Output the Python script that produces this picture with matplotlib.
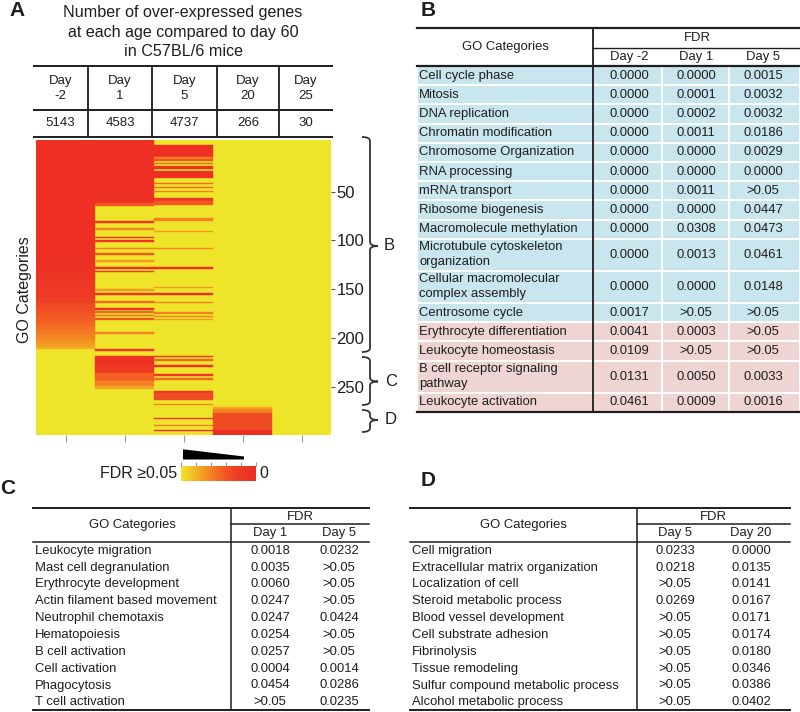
import matplotlib
matplotlib.use("Agg")
import matplotlib.pyplot as plt
import numpy as np
from matplotlib.cm import ScalarMappable
from matplotlib.colors import LinearSegmentedColormap, Normalize
from matplotlib.path import Path
from matplotlib.patches import PathPatch, Polygon, Rectangle

plt.rcParams['font.family'] = ['Liberation Sans', 'DejaVu Sans']

# ---------------- data ----------------
# panel A header table
ages = ['-2', '1', '5', '20', '25']
gene_counts = [5143, 4583, 4737, 266, 30]

# heatmap bands per age column: (first GO row, last GO row, FDR); rest is >=0.05
day_m2_bands = [(-3.5, 118, 0.0), (118, 124, 0.0015), (124, 130, 0.003), (130, 136, 0.0045),
                (136, 142, 0.006), (142, 148, 0.008), (148, 154, 0.010), (154, 159, 0.012),
                (159, 164, 0.014), (164, 169, 0.016), (169, 174, 0.018), (174, 179, 0.020),
                (179, 184, 0.022), (184, 188, 0.024), (188, 192, 0.026), (192, 196, 0.028),
                (196, 200, 0.030), (200, 203, 0.032), (203, 206, 0.034), (206, 209, 0.036),
                (209, 211, 0.039)]
day1_bands = [(-3.5, 62, 0.0), (62, 65, 0.02), (80.5, 81.5, 0.008), (88, 89, 0.03),
              (96.5, 97.5, 0.004), (100, 101, 0.004), (107.5, 108.5, 0.03), (113.5, 114.5, 0.02),
              (120.5, 121.5, 0.035), (127, 129, 0.0), (131.5, 132.5, 0.01), (150.5, 151.5, 0.035),
              (154.5, 155.5, 0.004), (162.5, 163.5, 0.025), (170, 171, 0.004), (173, 174, 0.025),
              (176.5, 177.5, 0.025), (180, 181, 0.02), (194.5, 195.5, 0.03), (212, 213, 0.01),
              (219, 228, 0.002), (228, 236, 0.012), (236, 244, 0.022), (244, 249, 0.03),
              (249, 252, 0.037)]
day5_bands = [(2, 14, 0.0), (14.5, 16, 0.03), (17, 18, 0.02), (20.5, 21.5, 0.025),
              (23.5, 27, 0.004), (29, 35.5, 0.0), (41, 42, 0.025), (45, 46, 0.025),
              (49.5, 50.5, 0.03), (56.5, 60, 0.008), (60, 63.5, 0.02), (76.5, 80.5, 0.03),
              (90.5, 91.5, 0.035), (107.5, 108.5, 0.03), (127, 129, 0.0), (148, 149, 0.035),
              (154.5, 155.5, 0.002), (163, 164, 0.03), (174, 175, 0.03), (177.5, 178.5, 0.03),
              (180.5, 181.5, 0.035), (218.5, 220, 0.002), (222, 223, 0.025), (228, 229.5, 0.003),
              (237.5, 238.5, 0.004), (241.5, 242.5, 0.025), (254, 256, 0.004), (256, 264, 0.017),
              (267.5, 268.5, 0.03), (282, 283, 0.012), (289.5, 290.5, 0.03), (294.5, 295.5, 0.002)]
day20_bands = [(270.5, 273, 0.037), (273, 276.5, 0.03), (276.5, 294.5, 0.017), (294.5, 299.5, 0.0)]
day25_bands = []

# panel B table
b_terms = ["Cell cycle phase", "Mitosis", "DNA replication", "Chromatin modification",
           "Chromosome Organization", "RNA processing", "mRNA transport", "Ribosome biogenesis",
           "Macromolecule methylation", "Microtubule cytoskeleton\norganization",
           "Cellular macromolecular\ncomplex assembly", "Centrosome cycle",
           "Erythrocyte differentiation", "Leukocyte homeostasis",
           "B cell receptor signaling\npathway", "Leukocyte activation"]
b_day_m2 = ["0.0000"] * 11 + ["0.0017", "0.0041", "0.0109", "0.0131", "0.0461"]
b_day1 = ["0.0000", "0.0001", "0.0002", "0.0011", "0.0000", "0.0000", "0.0011", "0.0000",
          "0.0308", "0.0013", "0.0000", ">0.05", "0.0003", ">0.05", "0.0050", "0.0009"]
b_day5 = ["0.0015", "0.0032", "0.0032", "0.0186", "0.0029", "0.0000", ">0.05", "0.0447",
          "0.0473", "0.0461", "0.0148", ">0.05", ">0.05", ">0.05", "0.0033", "0.0016"]
b_group = ["cell"] * 12 + ["immune"] * 4

# panel C table
c_terms = ["Leukocyte migration", "Mast cell degranulation", "Erythrocyte development",
           "Actin filament based movement", "Neutrophil chemotaxis", "Hematopoiesis",
           "B cell activation", "Cell activation", "Phagocytosis", "T cell activation"]
c_day1 = ["0.0018", "0.0035", "0.0060", "0.0247", "0.0247", "0.0254", "0.0257", "0.0004",
          "0.0454", ">0.05"]
c_day5 = ["0.0232", ">0.05", ">0.05", ">0.05", "0.0424", ">0.05", ">0.05", "0.0014",
          "0.0286", "0.0235"]

# panel D table
d_terms = ["Cell migration", "Extracellular matrix organization", "Localization of cell",
           "Steroid metabolic process", "Blood vessel development", "Cell substrate adhesion",
           "Fibrinolysis", "Tissue remodeling", "Sulfur compound metabolic process",
           "Alcohol metabolic process"]
d_day5 = ["0.0233", "0.0218", ">0.05", "0.0269", ">0.05", ">0.05", ">0.05", ">0.05",
          ">0.05", ">0.05"]
d_day20 = ["0.0000", "0.0135", "0.0141", "0.0167", "0.0171", "0.0174", "0.0180", "0.0346",
           "0.0386", "0.0402"]

# ---------------- figure ----------------
W, H = 800, 712
fig = plt.figure(figsize=(8, 7.12), dpi=100)
ink = '#1e1e1e'

# full-figure axes in pixel units for tables and annotations
base = fig.add_axes([0, 0, 1, 1])
base.set_xlim(0, W)
base.set_ylim(H, 0)
base.axis('off')

fdr_cmap = LinearSegmentedColormap.from_list(
    'fdr', [(0.0, '#ED2F24'), (0.25, '#EE3B25'), (0.5, '#F26A22'),
            (0.75, '#F5A623'), (1.0, '#EEE52B')])
norm = Normalize(0, 0.05)

# ---- panel A ----
base.text(16.7, 11, 'A', fontsize=15, fontweight='bold', ha='center', va='center', color=ink)
title_lines = ["Number of over-expressed genes", "at each age compared to day 60", "in C57BL/6 mice"]
for k, line in enumerate(title_lines):
    base.text(183, 13 + k * 19.5, line, fontsize=11.6, ha='center', va='center', color=ink)

edges = [33, 88, 152, 217, 279, 333]
for yy in [66, 109.5, 137]:
    base.plot([33, 333], [yy, yy], color=ink, lw=1.4, solid_capstyle='butt')
for xx in edges[1:-1]:
    base.plot([xx, xx], [66, 137], color=ink, lw=1.3)
for i, (age, n) in enumerate(zip(ages, gene_counts)):
    cx = (edges[i] + edges[i + 1]) / 2
    base.text(cx, 80.7, "Day", fontsize=9.5, ha='center', va='center', color=ink)
    base.text(cx, 96, age, fontsize=9.5, ha='center', va='center', color=ink)
    base.text(cx, 123.5, str(n), fontsize=9.5, ha='center', va='center', color=ink)

# heatmap, one horizontal bar per band, yellow (FDR >= 0.05) underneath
hm = fig.add_axes([36 / W, 1 - 435 / H, 295 / W, 295.5 / H])
hm.set_facecolor(fdr_cmap(1.0))
for j, bands in enumerate([day_m2_bands, day1_bands, day5_bands, day20_bands, day25_bands]):
    for a, b, v in bands:
        c = fdr_cmap(norm(v))
        hm.barh((a + b) / 2, 1, left=j, height=max(b - a, 1.5), color=c, ec=c, lw=0.3)
hm.set_xlim(0, 5)
hm.set_ylim(299.5, -3.5)
for s in hm.spines.values():
    s.set_visible(False)
hm.yaxis.tick_right()
hm.set_yticks([50, 100, 150, 200, 250])
hm.tick_params(axis='y', labelsize=12, length=3, pad=1, color='#555555', labelcolor=ink)
hm.set_xticks(np.arange(5) + 0.5)
hm.set_xticklabels([])
hm.tick_params(axis='x', length=5, color='#999999')
base.text(25, 290, 'GO Categories', rotation=90, fontsize=11.5, ha='center', va='center', color=ink)


def brace(top, bot, mid, xs=370, x0=362, xt=378, r=4):
    verts = [(x0, top), (xs, top), (xs, top + r), (xs, mid - r), (xs, mid), (xt, mid),
             (xs, mid), (xs, mid + r), (xs, bot - r), (xs, bot), (x0, bot)]
    codes = [Path.MOVETO, Path.CURVE3, Path.CURVE3, Path.LINETO, Path.CURVE3, Path.CURVE3,
             Path.CURVE3, Path.CURVE3, Path.LINETO, Path.CURVE3, Path.CURVE3]
    base.add_patch(PathPatch(Path(verts, codes), fc='none', ec='#333333', lw=1.3))


brace(137, 352, 246)
brace(357, 405, 381.5)
brace(410, 432, 420)
base.text(389, 246, 'B', fontsize=12, ha='center', va='center', color=ink)
base.text(391, 381.5, 'C', fontsize=12, ha='center', va='center', color=ink)
base.text(391, 420, 'D', fontsize=12, ha='center', va='center', color=ink)

# colour key
cax = fig.add_axes([181 / W, 1 - 481 / H, 75 / W, 15 / H])
cb = fig.colorbar(ScalarMappable(norm=norm, cmap=fdr_cmap), cax=cax, orientation='horizontal')
cb.outline.set_visible(False)
cax.invert_xaxis()
cax.xaxis.set_ticks_position('top')
cax.set_xticks(np.linspace(0, 0.05, 6))
cax.set_xticklabels([])
cax.tick_params(axis='x', length=3, color='#999999')
base.add_patch(Polygon([(183, 449.3), (244, 456.5), (244, 459.5), (183, 459.5)],
                       closed=True, fc='black', ec='none'))
base.text(177, 473.5, 'FDR ≥0.05', fontsize=11.5, ha='right', va='center', color=ink)
base.text(259, 473.5, '0', fontsize=11.5, ha='left', va='center', color=ink)

# ---- panel B ----
base.text(428, 11, 'B', fontsize=15, fontweight='bold', ha='center', va='center', color=ink)
fill = {'cell': '#C9E5EE', 'immune': '#EED4D2'}
y = 66
for term, v1, v2, v3, g in zip(b_terms, b_day_m2, b_day1, b_day5, b_group):
    parts = term.split('\n')
    h = 32.1 if len(parts) > 1 else 19.2
    base.add_patch(Rectangle((417, y), 383, h, fc=fill[g], ec='white', lw=1.4))
    cy = y + h / 2
    for k, part in enumerate(parts):
        ty = cy + (k - (len(parts) - 1) / 2) * 15
        base.text(419, ty, part, fontsize=9.4, ha='left', va='center', color=ink)
    for cx, v in zip([629, 696, 763], [v1, v2, v3]):
        base.text(cx, cy, v, fontsize=9.4, ha='center', va='center', color=ink)
    y += h
for xx in [662, 729]:
    base.plot([xx, xx], [66, 412], color='white', lw=1.4)
base.plot([417, 800], [28, 28], color=ink, lw=1.6)
base.plot([593, 800], [48, 48], color=ink, lw=1.0)
base.plot([417, 800], [66, 66], color=ink, lw=1.6)
base.plot([417, 800], [412, 412], color=ink, lw=1.6)
base.plot([593, 593], [28, 412], color=ink, lw=1.3)
base.text(505, 47, 'GO Categories', fontsize=9.4, ha='center', va='center', color=ink)
base.text(697, 38, 'FDR', fontsize=9.4, ha='center', va='center', color=ink)
for cx, lab in zip([629, 696, 763], ['Day -2', 'Day 1', 'Day 5']):
    base.text(cx, 57, lab, fontsize=9.4, ha='center', va='center', color=ink)


# ---- panels C and D ----
def small_table(x0, x1, xdiv, name_x, col_x, days, terms, col_a, col_b, gx):
    base.plot([x0, x1], [507.5, 507.5], color=ink, lw=1.4)
    base.plot([xdiv, x1], [524.3, 524.3], color=ink, lw=1.1)
    base.plot([x0, x1], [541.5, 541.5], color=ink, lw=1.1)
    base.plot([x0, x1], [710, 710], color=ink, lw=1.4)
    base.plot([xdiv, xdiv], [507.5, 710], color=ink, lw=1.1)
    base.text(gx, 525, 'GO Categories', fontsize=9.4, ha='center', va='center', color=ink)
    base.text((xdiv + x1) / 2, 517, 'FDR', fontsize=9.4, ha='center', va='center', color=ink)
    for cx, lab in zip(col_x, days):
        base.text(cx, 533, lab, fontsize=9.4, ha='center', va='center', color=ink)
    for i, (t, a, b) in enumerate(zip(terms, col_a, col_b)):
        cy = 550.7 + i * 16.85
        base.text(name_x, cy, t, fontsize=9.4, ha='left', va='center', color=ink)
        base.text(col_x[0], cy, a, fontsize=9.4, ha='center', va='center', color=ink)
        base.text(col_x[1], cy, b, fontsize=9.4, ha='center', va='center', color=ink)


base.text(7.5, 488, 'C', fontsize=15, fontweight='bold', ha='center', va='center', color=ink)
small_table(33, 369, 231, 35, [270, 339], ['Day 1', 'Day 5'], c_terms, c_day1, c_day5, 132)
base.text(428, 480, 'D', fontsize=15, fontweight='bold', ha='center', va='center', color=ink)
small_table(410, 790, 637, 412, [675, 751], ['Day 5', 'Day 20'], d_terms, d_day5, d_day20, 523)

fig.savefig('out.png', dpi=100)
